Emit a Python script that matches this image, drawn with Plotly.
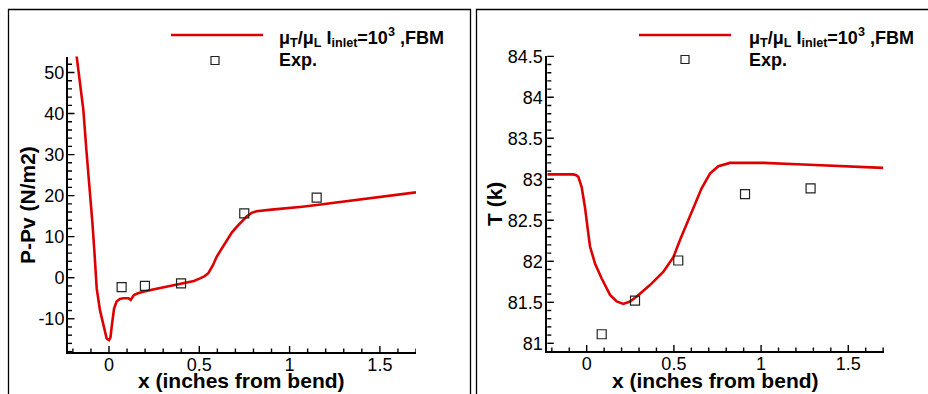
import plotly.graph_objects as go

W, H = 928, 394

# ---------------- data ----------------
# Left panel: P-Pv along x
p_x = [-0.185, -0.179, -0.16, -0.142, -0.125, -0.105, -0.092, -0.081, -0.068, -0.05,
       -0.031, -0.013, 0.0, 0.008, 0.015, 0.028, 0.042, 0.06, 0.079, 0.1, 0.107,
       0.12, 0.138, 0.16, 0.19, 0.25, 0.319, 0.38, 0.43, 0.47, 0.504, 0.53, 0.55,
       0.575, 0.596, 0.625, 0.651, 0.68, 0.707, 0.735, 0.762, 0.79, 0.817, 0.9,
       0.983, 1.07, 1.15, 1.29, 1.426, 1.56, 1.7]
p_y = [56.0, 53.9, 47.0, 40.9, 31.0, 21.3, 13.5, 6.5, -2.6, -7.9,
       -11.9, -14.8, -15.2, -14.6, -11.9, -7.5, -5.8, -5.2, -5.0, -4.9, -5.0,
       -5.4, -4.2, -3.8, -3.4, -2.8, -2.2, -1.7, -1.2, -0.8, -0.15, 0.4, 1.1,
       3.0, 5.1, 7.2, 9.2, 11.0, 12.4, 13.8, 14.9, 15.8, 16.2, 16.6,
       16.9, 17.3, 17.7, 18.5, 19.3, 20.0, 20.8]
p_exp_x = [0.07, 0.199, 0.399, 0.749, 1.15]
p_exp_y = [-2.3, -2.0, -1.4, 15.7, 19.5]

# Right panel: T along x
t_x = [-0.226, -0.077, -0.06, -0.048, -0.029, -0.01, 0.009, 0.019, 0.048, 0.086,
       0.134, 0.172, 0.21, 0.248, 0.287, 0.363, 0.439, 0.497, 0.535, 0.592,
       0.659, 0.707, 0.755, 0.822, 1.013, 1.242, 1.471, 1.70]
t_y = [83.06, 83.06, 83.05, 83.03, 82.905, 82.66, 82.34, 82.18, 81.97, 81.79,
       81.59, 81.51, 81.48, 81.51, 81.57, 81.71, 81.87, 82.05, 82.26, 82.54,
       82.89, 83.07, 83.16, 83.20, 83.20, 83.18, 83.157, 83.14]
t_exp_x = [0.086, 0.277, 0.525, 0.908, 1.284]
t_exp_y = [81.11, 81.52, 82.01, 82.82, 82.89]

# tick labels
x_ticks = [0, 0.5, 1, 1.5]
x_ticktext = ["0", "0.5", "1", "1.5"]
p_ticks = [-10, 0, 10, 20, 30, 40, 50]
p_ticktext = ["-10", "0", "10", "20", "30", "40", "50"]
t_ticks = [81, 81.5, 82, 82.5, 83, 83.5, 84, 84.5]
t_ticktext = ["81", "81.5", "82", "82.5", "83", "83.5", "84", "84.5"]

legend_line = "<b>μ<sub>T</sub>/μ<sub>L</sub> I<sub>inlet</sub>=10<sup>3</sup> ,FBM</b>"
legend_exp = "<b>Exp.</b>"
x_title = "<b>x (inches from bend)</b>"
p_title = "<b>P-Pv (N/m2)</b>"
t_title = "<b>T (k)</b>"

RED = "#dd0000"
FONT = "Liberation Sans, Arial, sans-serif"

def px(x):
    return x / W

def py(y):
    return 1 - y / H

fig = go.Figure()
fig.add_trace(go.Scatter(x=p_x, y=p_y, mode="lines", line=dict(color=RED, width=2.6),
                         xaxis="x", yaxis="y", showlegend=False))
fig.add_trace(go.Scatter(x=p_exp_x, y=p_exp_y, mode="markers",
                         marker=dict(symbol="square-open", size=9, color="#222222",
                                     line=dict(width=1.2)),
                         xaxis="x", yaxis="y", showlegend=False))
fig.add_trace(go.Scatter(x=t_x, y=t_y, mode="lines", line=dict(color=RED, width=2.6),
                         xaxis="x2", yaxis="y2", showlegend=False))
fig.add_trace(go.Scatter(x=t_exp_x, y=t_exp_y, mode="markers",
                         marker=dict(symbol="square-open", size=9, color="#222222",
                                     line=dict(width=1.2)),
                         xaxis="x2", yaxis="y2", showlegend=False))

def axis_style(**kw):
    d = dict(showgrid=False, zeroline=False, showline=True, linecolor="black",
             linewidth=2, ticks="", tickmode="array", automargin=False,
             tickfont=dict(family=FONT, size=18, color="black"), mirror=False)
    d.update(kw)
    return d

fig.update_layout(
    template="none",
    font=dict(family=FONT, color="black"),
    width=W, height=H,
    margin=dict(l=0, r=0, t=0, b=0),
    paper_bgcolor="white", plot_bgcolor="white",
    xaxis=axis_style(domain=[px(68), px(416)], range=[-0.227, 1.70],
                     tickvals=x_ticks, ticktext=x_ticktext, anchor="y",
                     ticklabelstandoff=-5),
    yaxis=axis_style(domain=[py(352), py(56.5)], range=[-18.1, 53.9],
                     tickvals=p_ticks, ticktext=p_ticktext, anchor="x",
                     ticklabelstandoff=-2),
    xaxis2=axis_style(domain=[px(547.3), px(884)], range=[-0.226, 1.705],
                      tickvals=x_ticks, ticktext=x_ticktext, anchor="y2",
                      ticklabelstandoff=-5),
    yaxis2=axis_style(domain=[py(351), py(55.5)], range=[80.906, 84.51],
                      tickvals=t_ticks, ticktext=t_ticktext, anchor="x2",
                      ticklabelstandoff=-1),
)

shapes = [
    # panel frames
    dict(type="rect", xref="paper", yref="paper", x0=px(8.5), x1=px(470.5),
         y0=-0.1, y1=py(9.5), line=dict(color="black", width=1.3)),
    dict(type="rect", xref="paper", yref="paper", x0=px(476.5), x1=1.1,
         y0=-0.1, y1=py(9.5), line=dict(color="black", width=1.3)),
    # legend lines
    dict(type="line", xref="paper", yref="paper", x0=px(171), x1=px(263),
         y0=py(35), y1=py(35), line=dict(color=RED, width=2.6)),
    dict(type="line", xref="paper", yref="paper", x0=px(639), x1=px(731),
         y0=py(35), y1=py(35), line=dict(color=RED, width=2.6)),
    # legend squares
    dict(type="rect", xref="paper", yref="paper", x0=px(211), x1=px(219),
         y0=py(64.5), y1=py(56.5), line=dict(color="#222222", width=1.2)),
    dict(type="rect", xref="paper", yref="paper", x0=px(681), x1=px(689),
         y0=py(63.5), y1=py(55.5), line=dict(color="#222222", width=1.2)),
]

# inward tick marks, placed through the axes' own scales
def x_tick_marks(xa, ya, lo_i, hi_i, step, major_every):
    out = []
    for i in range(lo_i, hi_i + 1):
        v = round(i * step, 6)
        ln = 6 if i % major_every == 0 else 3.5
        out.append(dict(type="line", xref=xa, yref=ya + " domain", ysizemode="pixel",
                        yanchor=0, x0=v, x1=v, y0=0, y1=ln,
                        line=dict(color="black", width=1.4)))
    return out

def y_tick_marks(xa, ya, start, n, step, major_every):
    out = []
    for i in range(n + 1):
        v = round(start + i * step, 6)
        ln = 6.5 if i % major_every == 0 else 4
        out.append(dict(type="line", yref=ya, xref=xa + " domain", xsizemode="pixel",
                        xanchor=0, y0=v, y1=v, x0=0, x1=ln,
                        line=dict(color="black", width=1.4)))
    return out

shapes += x_tick_marks("x", "y", -2, 17, 0.1, 5)
shapes += x_tick_marks("x2", "y2", -2, 17, 0.1, 5)
shapes += y_tick_marks("x", "y", -10, 30, 2, 5)      # -10 .. 50, major every 10
shapes += [dict(type="line", yref="y", xref="x domain", xsizemode="pixel", xanchor=0,
                y0=v, y1=v, x0=0, x1=4, line=dict(color="black", width=1.4))
           for v in [-18, -16, -14, -12, 52]]
shapes += y_tick_marks("x2", "y2", 81.0, 35, 0.1, 5)  # 81 .. 84.5, major every 0.5
shapes += [dict(type="line", yref="y2", xref="x2 domain", xsizemode="pixel", xanchor=0,
                y0=80.95, y1=80.95, x0=0, x1=0, line=dict(color="black", width=0))]
fig.update_layout(shapes=shapes)

def ann(text, x, y, size, xanchor="center", angle=0):
    return dict(text=text, x=px(x), y=py(y), xref="paper", yref="paper",
                showarrow=False, xanchor=xanchor, yanchor="middle", textangle=angle,
                font=dict(family=FONT, size=size, color="black"))

annotations = [
    ann(legend_line, 277, 37, 18, "left"),
    ann(legend_exp, 277, 60, 18, "left"),
    ann(legend_line, 747, 37, 18, "left"),
    ann(legend_exp, 747, 60, 18, "left"),
    ann(x_title, 241, 380, 21),
    ann(x_title, 715, 380, 21),
    ann(p_title, 28, 205, 21, angle=-90),
    ann(t_title, 494, 204, 21, angle=-90),
]
fig.update_layout(annotations=annotations)

fig.write_html("out.html")
